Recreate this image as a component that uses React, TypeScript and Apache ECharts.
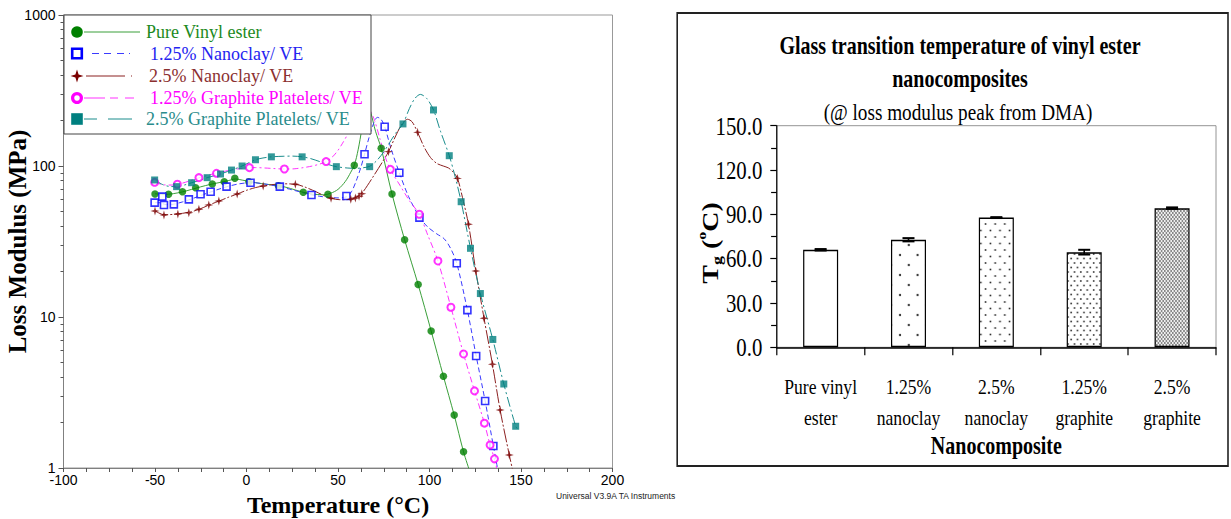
import React, { useEffect, useRef } from 'react';
import * as echarts from 'echarts';

// ---------------- Left chart data: [temperature °C, loss modulus MPa] ----------------
const pureVECurve = [
  [-50, 65.5], [-45, 64.8], [-40, 65.6], [-35, 67.4], [-30, 70], [-25, 72.8], [-20, 75.4], [-15, 77.6],
  [-10, 80], [-6, 82], [-2, 80.5], [2, 78.8], [8, 76.5], [14, 75], [18, 74], [24, 71], [30, 67.5],
  [36, 65.2], [42, 64.5], [46, 66], [50, 70], [54, 79], [57, 91], [59, 102], [61, 128], [63, 175],
  [65, 245], [66.5, 260], [68, 225], [70.5, 170], [73.6, 131], [79.5, 65.3], [86.4, 32.5], [93.8, 16.4],
  [100.9, 8.08], [107.6, 4.05], [113.5, 2.24], [118.6, 1.28], [122, 0.95],
];
const pureVEMarks = [
  [-50, 65.3], [-42.6, 65], [-35, 67.6], [-27.8, 71.8], [-18.7, 76], [-12.2, 78.7], [-6.4, 83], [1.3, 78.7],
  [17.5, 74], [31, 67], [44.5, 65], [58.9, 101], [73.6, 131], [79.5, 65.3], [86.4, 32.5], [93.8, 16.4],
  [100.9, 8.08], [107.6, 4.05], [113.5, 2.24], [118.6, 1.28],
];

const clay125Curve = [
  [-50, 57.2], [-47, 57], [-44, 55.5], [-40, 55.8], [-35, 57.8], [-30, 60.5], [-25, 63.8], [-20, 67],
  [-15, 70.3], [-10, 73.3], [-5, 75.8], [0, 77.3], [4, 77.5], [10, 76], [15, 74.2], [20, 72], [25, 69.5],
  [30, 67], [35, 64.6], [40, 63], [45, 62], [50, 61.5], [54.6, 62.5], [57.5, 68], [60, 80], [62.5, 98],
  [64.5, 119.5], [67, 155], [69.5, 192], [71.5, 210], [73.5, 204], [75.5, 182], [79, 130], [83.5, 90.3],
  [88.5, 63], [94.5, 46], [99, 39.5], [104, 35.5], [108, 33], [111.5, 28.5], [114.9, 22.7], [120.7, 11.1],
  [125.5, 5.52], [130.4, 2.78], [134.9, 1.4], [137.5, 0.95],
];
const clay125Marks = [
  [-50.2, 57.2], [-46, 62.7], [-45.1, 55.2], [-39.7, 55.7], [-31.5, 60.1], [-25.1, 65], [-19.6, 67.6],
  [-10.9, 73], [2.2, 77.5], [18.2, 73], [35.5, 64.3], [54.6, 63.3], [64.5, 119.5], [75.5, 182], [83.5, 90.3],
  [94.5, 45.5], [114.9, 22.7], [120.7, 11.1], [125.5, 5.52], [130.4, 2.78], [134.9, 1.4],
];

const clay25Curve = [
  [-50, 50.4], [-45, 47.6], [-40, 47.8], [-35, 48.6], [-30, 49.8], [-25, 52.2], [-20, 55.5], [-15, 58.6],
  [-10, 62], [-5, 65.3], [0, 69], [5, 72], [10, 74], [15, 75.5], [20, 76.2], [26.7, 75.7], [32, 72.5],
  [38, 67.5], [42, 64], [46.2, 61.1], [51, 59.8], [56, 60], [60, 62], [63, 66], [66, 74], [70, 88], [74, 105],
  [77.6, 124.5], [81.5, 158], [85, 190], [88, 204], [90.5, 196], [93.5, 167], [97, 134], [100.5, 114],
  [104, 104], [107.5, 100], [110.4, 97], [113, 91], [115.3, 82.8], [118, 62], [121.3, 41.1], [125.3, 20.2],
  [129.8, 9.8], [134.4, 4.86], [138.6, 2.42], [143.6, 1.22], [145.5, 0.96],
];
const clay25Marks = [
  [-50, 50.4], [-45.1, 47.4], [-37.5, 48.1], [-31.5, 49.1], [-26, 51.7], [-20.6, 55.2], [-15.1, 58.6],
  [-5.1, 65.3], [9.1, 73.7], [26.7, 75.7], [46.2, 61.1], [57, 60.2], [59.5, 61.3], [61.5, 63], [63, 65.5],
  [77.6, 124.5], [93.5, 167], [115.3, 82.8], [121.3, 41.1], [125.3, 20.2], [129.8, 9.8], [134.4, 4.86],
  [138.6, 2.42], [143.6, 1.22],
];

const graph125Curve = [
  [-50, 78], [-45, 75], [-40, 74.8], [-35, 77], [-30, 80.5], [-25, 84.2], [-20, 87.5], [-15, 90.5],
  [-10, 93.3], [-5, 95.6], [0, 97.2], [5, 97.6], [10, 97], [15, 96.2], [20.7, 95.5], [26, 95.8], [31, 97.5],
  [36, 100], [40, 103], [43.5, 107], [47, 115], [50, 127], [53, 145], [56, 168], [59, 195], [62, 222],
  [65, 238], [67.5, 232], [70, 200], [73, 150], [76, 113], [78.6, 95], [84, 74], [89, 59], [94.4, 47.9],
  [99, 35], [104.6, 23.5], [111.7, 11.6], [118.6, 5.69], [124.6, 3.24], [130, 1.98], [133.1, 1.42],
  [135.5, 1.15], [137, 0.96],
];
const graph125Marks = [
  [-50.2, 78], [-37.8, 75.7], [-26, 83.7], [-16.4, 89.5], [1.6, 97.5], [20.7, 95.5], [43.5, 107],
  [78.6, 95], [94.4, 47.9], [104.6, 23.5], [111.7, 11.6], [118.6, 5.69], [124.6, 3.24], [130, 1.98],
  [133.1, 1.42], [135.5, 1.15],
];

const graph25Curve = [
  [-50, 80.8], [-46, 75.5], [-42, 73.2], [-38.2, 73], [-34, 74.8], [-30, 77.5], [-25, 80.8], [-21.5, 83.7],
  [-18, 86], [-14.2, 88.5], [-8.2, 94], [-2.4, 100], [4.9, 110], [9, 113], [13.6, 115], [20, 116],
  [25, 116.3], [30.4, 115], [35, 112], [40, 107], [45, 102], [49.1, 99], [55, 97], [60, 96.5], [64, 97.5],
  [67.3, 99.5], [71, 108], [75, 124], [79, 148], [82, 168], [85.5, 190], [89, 240], [92, 280], [95, 298],
  [98.5, 280], [102.2, 235], [106, 170], [110.8, 117], [114, 85], [117.3, 58], [122.4, 28.5], [127.8, 14.3],
  [134.6, 7.1], [140.6, 3.6], [147.1, 1.89], [148, 1.82],
];
const graph25Marks = [
  [-50.2, 80.8], [-38.2, 73], [-30, 77.5], [-21.5, 83.7], [-14.2, 88.5], [-8.2, 94], [-2.4, 100],
  [4.9, 110], [13.6, 115], [30.4, 115], [49.1, 99], [67.3, 99], [85.5, 190], [102.2, 235], [110.8, 117],
  [117.3, 58], [122.4, 28.5], [127.8, 14.3], [134.6, 7.1], [140.6, 3.6], [147.1, 1.89],
];

const seriesNames = [
  'Pure Vinyl ester',
  '1.25% Nanoclay/ VE',
  '2.5% Nanoclay/ VE',
  '1.25% Graphite Platelets/ VE',
  '2.5% Graphite Platelets/ VE',
];

// ---------------- Right chart data ----------------
const composites = ['Pure vinyl\nester', '1.25%\nnanoclay', '2.5%\nnanoclay', '1.25%\ngraphite', '2.5%\ngraphite'];
const tgValues = [66.0, 72.8, 87.8, 64.4, 94.2];
const tgErrors = [0.5, 1.1, 0.3, 1.6, 0.5];
const tgTicks = [0, 30, 60, 90, 120, 150];

const SERIF = '"Liberation Serif", "Times New Roman", serif';
const SANS = '"Liberation Sans", Arial, sans-serif';
const STAR = 'path://M0,-10 L2.2,-2.2 L10,0 L2.2,2.2 L0,10 L-2.2,2.2 L-10,0 L-2.2,-2.2 Z';

const styles = [
  { curve: pureVECurve, marks: pureVEMarks, mark: '#008000', line: '#3a9f3a', text: '#1d8a1d', dash: 'solid' as any, symbol: 'circle', size: 7.5, hollow: false },
  { curve: clay125Curve, marks: clay125Marks, mark: '#0000ff', line: '#3b3bff', text: '#2424f0', dash: [5, 3], symbol: 'rect', size: 7, hollow: true },
  { curve: clay25Curve, marks: clay25Marks, mark: '#7a0000', line: '#8b2020', text: '#8b3030', dash: [14, 2, 2, 2], symbol: STAR, size: 9, hollow: false },
  { curve: graph125Curve, marks: graph125Marks, mark: '#ff00ff', line: '#ff33ff', text: '#ff00ff', dash: [6, 3, 2, 3], symbol: 'circle', size: 7, hollow: true },
  { curve: graph25Curve, marks: graph25Marks, mark: '#008080', line: '#1a8c8c', text: '#2a8c8c', dash: [10, 3, 2, 3], symbol: 'rect', size: 7, hollow: false },
];

function dotPattern(w: number, h: number, dots: number[][], r: number, color: string, bg: string) {
  const c = document.createElement('canvas');
  c.width = w;
  c.height = h;
  const ctx = c.getContext('2d')!;
  ctx.fillStyle = bg;
  ctx.fillRect(0, 0, w, h);
  ctx.fillStyle = color;
  dots.forEach(([x, y]) => {
    ctx.beginPath();
    ctx.arc(x, y, r, 0, Math.PI * 2);
    ctx.fill();
  });
  return { image: c, repeat: 'repeat' };
}

function leftOption(): any {
  const series: any[] = [];
  styles.forEach((s, i) => {
    series.push({
      type: 'line', name: seriesNames[i], data: s.curve, symbol: 'none', smooth: 0.3,
      lineStyle: { color: s.line, width: 1, type: s.dash }, z: 2, silent: true,
    });
    series.push({
      type: 'scatter', name: seriesNames[i] + ' markers', data: s.marks, symbol: s.symbol, symbolSize: s.size,
      itemStyle: s.hollow
        ? { color: '#ffffff', borderColor: s.mark, borderWidth: s.symbol === 'rect' ? 1.6 : 2 }
        : { color: s.mark, borderWidth: 0 },
      z: 3, silent: true,
    });
  });

  const rowsY = [32, 53.5, 76, 98, 119];
  const textX = [146, 150, 149, 150, 146];
  const g: any[] = [
    { type: 'rect', z: 100, shape: { x: 64, y: 15, width: 307, height: 119 }, style: { fill: '#fff', stroke: '#444', lineWidth: 1 } },
  ];
  const mx = 77;
  rowsY.forEach((y, i) => {
    const s = styles[i];
    if (i === 0) g.push({ type: 'circle', z: 101, shape: { cx: mx, cy: y, r: 5.8 }, style: { fill: s.mark } });
    if (i === 1) g.push({ type: 'rect', z: 101, shape: { x: mx - 4.8, y: y - 4.8, width: 9.6, height: 9.6 }, style: { fill: '#fff', stroke: s.mark, lineWidth: 2.6 } });
    if (i === 2) g.push({ type: 'polygon', z: 101, shape: { points: [[mx, y - 6.5], [mx + 1.6, y - 1.6], [mx + 6.5, y], [mx + 1.6, y + 1.6], [mx, y + 6.5], [mx - 1.6, y + 1.6], [mx - 6.5, y], [mx - 1.6, y - 1.6]] }, style: { fill: s.mark } });
    if (i === 3) g.push({ type: 'circle', z: 101, shape: { cx: mx, cy: y, r: 4.4 }, style: { fill: '#fff', stroke: s.mark, lineWidth: 3.2 } });
    if (i === 4) g.push({ type: 'rect', z: 101, shape: { x: mx - 5.8, y: y - 5.8, width: 11.6, height: 11.6 }, style: { fill: s.mark } });
    const segs: number[][] =
      i === 0 ? [[84, 140]] :
      i === 1 ? [[92, 99], [104, 111], [117, 124], [129, 130]] :
      i === 2 ? [[86, 125], [131, 132]] :
      i === 3 ? [[84, 105], [110, 118], [125, 134]] :
      [[84, 97], [108, 132]];
    segs.forEach(([a, b]) => {
      g.push({ type: 'line', z: 101, shape: { x1: a, y1: y, x2: b, y2: y }, style: { stroke: s.line, lineWidth: 1 } });
    });
    g.push({
      type: 'text', z: 101, x: textX[i], y,
      style: { text: seriesNames[i], fill: s.text, fontSize: 18, fontFamily: SERIF, align: 'left', verticalAlign: 'middle' },
    });
  });
  // y-axis title (placed explicitly)
  g.push({
    type: 'text', z: 101, x: 17, y: 241.5, rotation: Math.PI / 2,
    style: { text: 'Loss Modulus (MPa)', fill: '#000', fontSize: 25, fontWeight: 'bold', fontFamily: SERIF, align: 'center', verticalAlign: 'middle' },
  });
  g.push({
    type: 'text', z: 101, x: 556, y: 496,
    style: { text: 'Universal V3.9A TA Instruments', fill: '#222', fontSize: 8.5, fontFamily: SANS, align: 'left', verticalAlign: 'middle' },
  });

  return {
    animation: false,
    backgroundColor: '#fff',
    grid: { left: 63.5, top: 15, width: 549, height: 453, show: true, borderColor: '#999', borderWidth: 1, containLabel: false, outerBoundsMode: 'none' },
    xAxis: {
      type: 'value', min: -100, max: 200, interval: 50,
      axisLine: { show: true, onZero: false, lineStyle: { color: '#808080', width: 1 } },
      axisTick: { show: true, length: 4, lineStyle: { color: '#555' } },
      minorTick: { show: true, splitNumber: 4, length: 4, lineStyle: { color: '#555' } },
      splitLine: { show: false },
      minorSplitLine: { show: false },
      axisLabel: { color: '#000', fontSize: 14, lineHeight: 13, fontFamily: SANS, margin: 5, formatter: (v: number) => String(v) },
      name: 'Temperature (°C)', nameLocation: 'middle', nameGap: 25,
      nameTextStyle: { fontSize: 24, fontWeight: 'bold', fontFamily: SERIF, color: '#000' },
    },
    yAxis: {
      type: 'log', logBase: 10, min: 1, max: 1000,
      axisLine: { show: true, onZero: false, lineStyle: { color: '#808080', width: 1 } },
      axisTick: { show: true, length: 5, lineStyle: { color: '#555' } },
      minorTick: { show: true, splitNumber: 9, length: 3, lineStyle: { color: '#555' } },
      splitLine: { show: false },
      minorSplitLine: { show: false },
      axisLabel: { color: '#000', fontSize: 14, lineHeight: 12, fontFamily: SANS, margin: 8, padding: [0, 0, 3, 0], formatter: (v: number) => String(Math.round(v)) },
    },
    graphic: { elements: g },
    series,
  };
}

const SQ = 0.8; // horizontal squeeze of the right panel

function rightOption(): any {
  const patterns = [
    '#ffffff',
    dotPattern(22, 20, [[5, 5], [16, 15]], 1.2, '#222', '#fff'),
    dotPattern(12, 13, [[3, 3], [9, 9.5]], 1.1, '#222', '#fff'),
    dotPattern(8, 9, [[2, 2], [6, 6.5]], 1.0, '#222', '#fff'),
    dotPattern(4, 4, [[1, 1], [3, 3]], 0.9, '#555', '#f0f0f0'),
  ];
  const toX = (x: number) => (x - 676) / SQ;
  return {
    animation: false,
    backgroundColor: '#fff',
    grid: { left: toX(776.7), top: 125.7, width: (1216 - 776.7) / SQ, height: 221.6, show: true, borderColor: '#888', borderWidth: 1, containLabel: false, outerBoundsMode: 'none' },
    xAxis: {
      type: 'category', data: composites, boundaryGap: true,
      axisLine: { show: true, lineStyle: { color: '#000', width: 1.5 } },
      axisTick: { show: true, alignWithLabel: false, length: 8, lineStyle: { color: '#000', width: 1.5 } },
      axisLabel: { interval: 0, color: '#000', fontSize: 22, lineHeight: 31, fontFamily: SERIF, margin: 23 },
      splitLine: { show: false },
      name: 'Nanocomposite', nameLocation: 'middle', nameGap: 77,
      nameTextStyle: { fontSize: 25, fontWeight: 'bold', fontFamily: SERIF, color: '#000' },
    },
    yAxis: {
      type: 'value', min: tgTicks[0], max: tgTicks[tgTicks.length - 1], interval: tgTicks[1] - tgTicks[0],
      axisLine: { show: true, lineStyle: { color: '#000', width: 1.5 } },
      axisTick: { show: true, length: 8, lineStyle: { color: '#000', width: 1.2 } },
      minorTick: { show: true, splitNumber: 2, length: 7, lineStyle: { color: '#000', width: 1.2 } },
      splitLine: { show: false },
      minorSplitLine: { show: false },
      axisLabel: { color: '#000', fontSize: 26, fontFamily: SERIF, margin: 18, formatter: (v: number) => v.toFixed(1) },
    },
    graphic: {
      elements: [
        { type: 'rect', z: 0, shape: { x: 1.5, y: 13, width: toX(1228) - 1.5, height: 453 }, style: { fill: 'none', stroke: '#222', lineWidth: 2 } },
        { type: 'text', x: toX(960), y: 46, style: { text: 'Glass transition temperature of vinyl ester', fontSize: 25, fontWeight: 'bold', fontFamily: SERIF, fill: '#000', align: 'center', verticalAlign: 'middle' } },
        { type: 'text', x: toX(960), y: 79, style: { text: 'nanocomposites', fontSize: 25, fontWeight: 'bold', fontFamily: SERIF, fill: '#000', align: 'center', verticalAlign: 'middle' } },
        { type: 'text', x: toX(958), y: 112, style: { text: '(@ loss modulus peak from DMA)', fontSize: 24, fontFamily: SERIF, fill: '#000', align: 'center', verticalAlign: 'middle' } },
        {
          type: 'text', x: toX(710), y: 243, rotation: Math.PI / 2,
          style: {
            text: '{b|T}{sub|g}{b| (}{sup|o}{b|C)}', align: 'center', verticalAlign: 'middle', fill: '#000',
            rich: {
              b: { fontSize: 28, fontWeight: 'bold', fontFamily: SERIF, lineHeight: 36, fill: '#000' },
              sub: { fontSize: 18, fontWeight: 'bold', fontFamily: SERIF, lineHeight: 20, verticalAlign: 'bottom', fill: '#000' },
              sup: { fontSize: 16, fontWeight: 'bold', fontFamily: SERIF, lineHeight: 20, verticalAlign: 'top', fill: '#000' },
            },
          },
        },
      ],
    },
    series: [
      {
        type: 'bar', barWidth: 35 / SQ,
        data: tgValues.map((v, i) => ({ value: v, itemStyle: { color: patterns[i], borderColor: '#000', borderWidth: 1.5 } })),
        z: 2, silent: true,
      },
      {
        type: 'custom', z: 5, silent: true,
        data: tgValues.map((v, i) => [i, v, tgErrors[i]]),
        encode: { x: 0, y: 1 },
        renderItem: (_p: any, api: any) => {
          const i = api.value(0);
          const v = api.value(1);
          const e = api.value(2);
          const top = api.coord([i, v + e]);
          const bot = api.coord([i, v - e]);
          const hw = 7.5;
          const st = { stroke: '#000', lineWidth: 2 };
          return {
            type: 'group',
            children: [
              { type: 'line', shape: { x1: top[0], y1: top[1], x2: bot[0], y2: bot[1] }, style: st },
              { type: 'line', shape: { x1: top[0] - hw, y1: top[1], x2: top[0] + hw, y2: top[1] }, style: st },
              { type: 'line', shape: { x1: bot[0] - hw, y1: bot[1], x2: bot[0] + hw, y2: bot[1] }, style: st },
            ],
          };
        },
      },
    ],
  };
}

export default function App() {
  const leftRef = useRef<HTMLDivElement>(null);
  const rightRef = useRef<HTMLDivElement>(null);
  useEffect(() => {
    const l = echarts.init(leftRef.current!, undefined, { renderer: 'svg' });
    l.setOption(leftOption());
    const r = echarts.init(rightRef.current!, undefined, { renderer: 'svg' });
    r.setOption(rightOption());
    return () => {
      l.dispose();
      r.dispose();
    };
  }, []);
  return (
    <div style={{ position: 'fixed', left: 0, top: 0, width: 1231, height: 519, overflow: 'hidden', background: '#fff' }}>
      <div ref={leftRef} style={{ position: 'absolute', left: 0, top: 0, width: 676, height: 519 }} />
      <div
        ref={rightRef}
        style={{ position: 'absolute', left: 676, top: 0, width: 694, height: 519, transform: `scaleX(${SQ})`, transformOrigin: '0 0' }}
      />
    </div>
  );
}
